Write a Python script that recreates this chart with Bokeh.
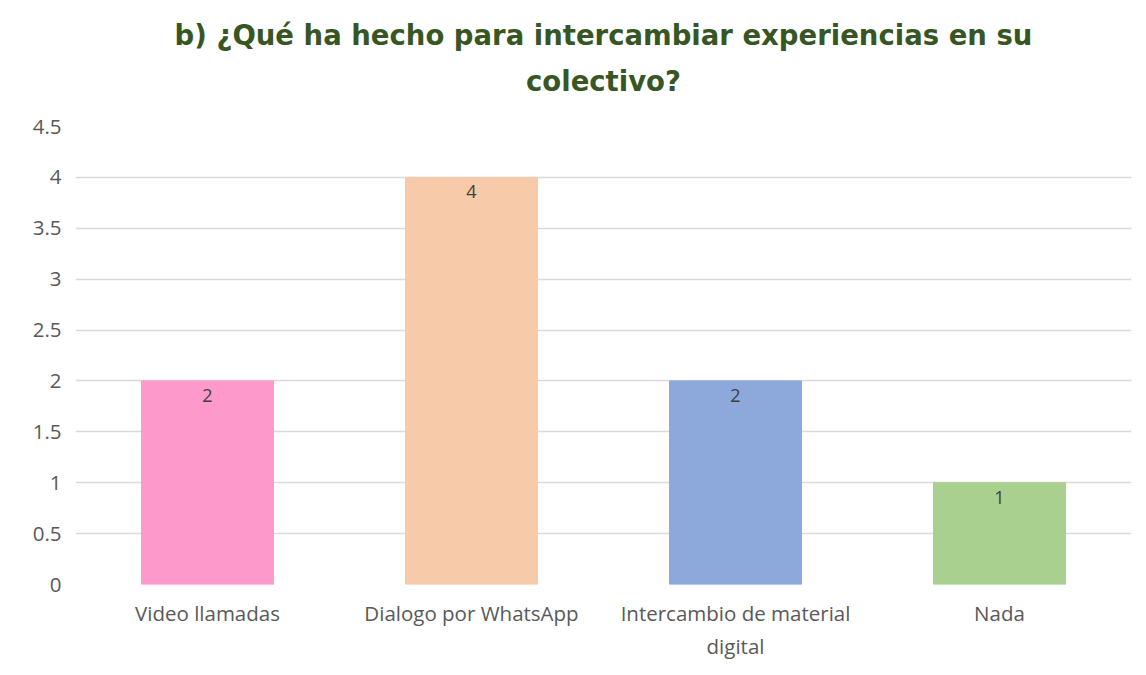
from bokeh.plotting import figure
from bokeh.models import ColumnDataSource, Title, FixedTicker, Range1d
from bokeh.core.properties import value
from bokeh.embed import file_html
from bokeh.resources import INLINE

categories = ["Video llamadas", "Dialogo por WhatsApp", "Intercambio de material\ndigital", "Nada"]
counts = [2, 4, 2, 1]
colors = ["#FE99CC", "#F7CAAA", "#8DA9DB", "#A9D08E"]
y_ticks = [0, 0.5, 1, 1.5, 2, 2.5, 3, 3.5, 4, 4.5]
y_tick_labels = ["0", "0.5", "1", "1.5", "2", "2.5", "3", "3.5", "4", "4.5"]
title_lines = ["b) ¿Qué ha hecho para intercambiar experiencias en su", "colectivo?"]

src = ColumnDataSource(dict(cat=categories, val=counts, color=colors,
                            lbl=[str(v) for v in counts]))

p = figure(x_range=categories, y_range=Range1d(0, 4.5), width=1146, height=675,
           output_backend="svg", toolbar_location=None, title=None,
           min_border_left=75, min_border_right=15, min_border_bottom=91, min_border_top=126)

p.vbar(x="cat", top="val", width=0.5, color="color", source=src)
p.text(x="cat", y="val", text="lbl", source=src, text_align="center", text_baseline="top",
       y_offset=8, text_font_size="18px", text_color="#404040", text_font=value("Open Sans"))

# spacer between the frame and the title lines
p.add_layout(Title(text=" ", text_font_size="12px", standoff=8), "above")
for i, line in enumerate(reversed(title_lines)):
    t = Title(text=line, align="center", text_font_size="27.5px", text_font_style="bold",
              text_color="#375623", text_font="DejaVu Sans", standoff=12 if i == 0 else 11)
    p.add_layout(t, "above")

p.yaxis.ticker = FixedTicker(ticks=y_ticks)
p.yaxis.major_label_overrides = {t: l for t, l in zip(y_ticks, y_tick_labels)}
for ax in (p.xaxis, p.yaxis):
    ax.axis_line_color = None
    ax.major_tick_line_color = None
    ax.minor_tick_line_color = None
    ax.major_label_text_font = "Open Sans"
    ax.major_label_text_font_size = "20.5px"
    ax.major_label_text_color = "#595959"
p.yaxis.major_label_standoff = 8
p.xaxis.major_label_standoff = 8

p.xgrid.grid_line_color = None
p.ygrid.grid_line_color = "#D9D9D9"
p.ygrid.grid_line_width = 1.5
p.outline_line_color = None
p.x_range.range_padding = 0

open("out.html", "w").write(file_html(p, INLINE))
